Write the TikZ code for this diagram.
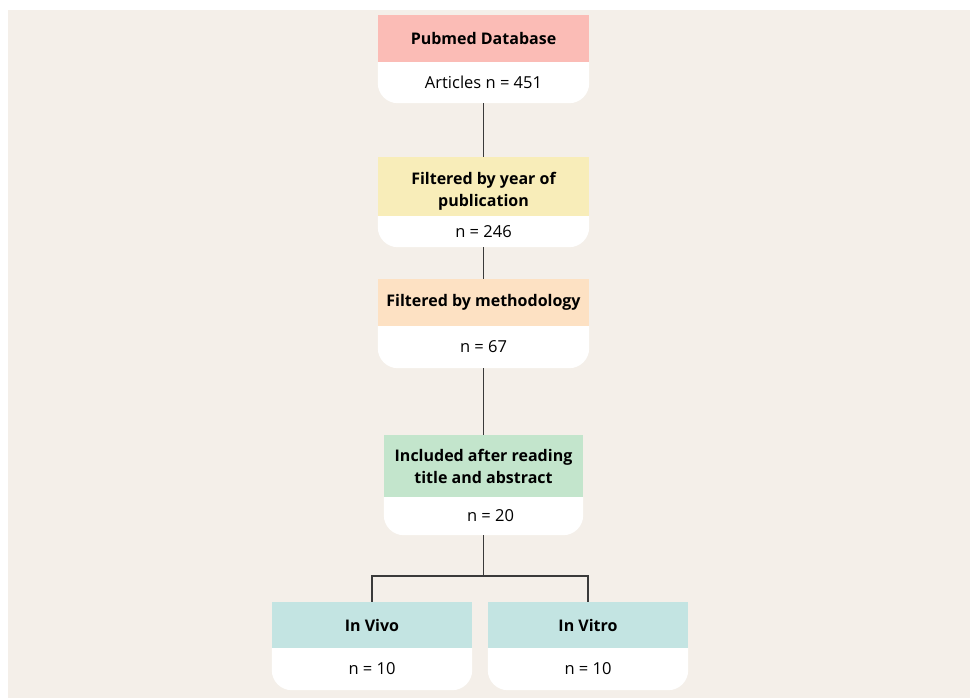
\documentclass[tikz,border=0pt]{standalone}
\usepackage{fontspec}
\setmainfont{Open Sans}
\usetikzlibrary{backgrounds}
\definecolor{bgc}{HTML}{F4EFE9}
\definecolor{cpink}{HTML}{FBBCB6}
\definecolor{cyellow}{HTML}{F8EDB9}
\definecolor{corange}{HTML}{FDE1C3}
\definecolor{cgreen}{HTML}{C3E5CC}
\definecolor{cteal}{HTML}{C3E4E2}
\definecolor{linec}{HTML}{3A3A3A}
\newcommand{\roundbottom}[1]{%
  \fill[white] (#1.north west) -- (#1.north east) -- ([yshift=20pt]#1.south east)
    arc[start angle=0,end angle=-90,radius=20pt] -- ([xshift=20pt]#1.south west)
    arc[start angle=270,end angle=180,radius=20pt] -- cycle;}
\begin{document}
\begin{tikzpicture}[x=1pt,y=-1pt,
  headtext/.style={inner sep=0pt, align=center, font=\fontsize{16}{22}\selectfont\bfseries, text=black},
  head/.style={rectangle, headtext},
  body/.style={rectangle, inner sep=0pt, align=center, font=\fontsize{16.5}{20}\selectfont, text=black},
  conn/.style={draw=linec, line width=1.5pt}]
\useasboundingbox (0,0) rectangle (970,698);
% box 1
\node[head, fill=cpink, minimum width=211pt, minimum height=47pt] (h1) at (483.5,38.5) {Pubmed Database};
\node[body, minimum width=211pt, minimum height=41pt] (b1) at (483.5,82.5) {Articles n = 451};
% box 2
\node[head, fill=cyellow, minimum width=211pt, minimum height=59pt,
  label={[headtext, yshift=-5pt]center:{Filtered by year of\\publication}}] (h2) at (483.5,186.5) {};
\node[body, minimum width=211pt, minimum height=31pt] (b2) at (483.5,231.5) {n = 246};
% box 3
\node[head, fill=corange, minimum width=211pt, minimum height=47pt] (h3) at (483.5,302.5) {Filtered by methodology};
\node[body, minimum width=211pt, minimum height=42pt] (b3) at (483.5,347) {n = 67};
% box 4
\node[head, fill=cgreen, minimum width=199pt, minimum height=62pt] (h4) at (483.5,466) {Included after reading\\title and abstract};
\node[body, minimum width=199pt, minimum height=38pt] (b4) at (483.5,516) {\hspace*{14pt}n = 20};
% box 5, 6
\node[head, fill=cteal, minimum width=200pt, minimum height=46pt] (h5) at (372,625) {In Vivo};
\node[body, minimum width=200pt, minimum height=42pt] (b5) at (372,669) {n = 10};
\node[head, fill=cteal, minimum width=200pt, minimum height=46pt] (h6) at (588,625) {In Vitro};
\node[body, minimum width=200pt, minimum height=42pt] (b6) at (588,669) {n = 10};
\begin{pgfonlayer}{background}
  \fill[bgc] (8,10) rectangle (970,698);
  \roundbottom{b1}\roundbottom{b2}\roundbottom{b3}\roundbottom{b4}\roundbottom{b5}\roundbottom{b6}
\end{pgfonlayer}
% connectors
\draw[conn] (b1.south) -- (h2.north);
\draw[conn] (b2.south) -- (h3.north);
\draw[conn] (b3.south) -- (h4.north);
\coordinate (split) at ([yshift=-41pt]b4.south);
\draw[conn] (b4.south) -- (split);
\draw[conn] (h5.north) |- (split) -| (h6.north);
\end{tikzpicture}
\end{document}
